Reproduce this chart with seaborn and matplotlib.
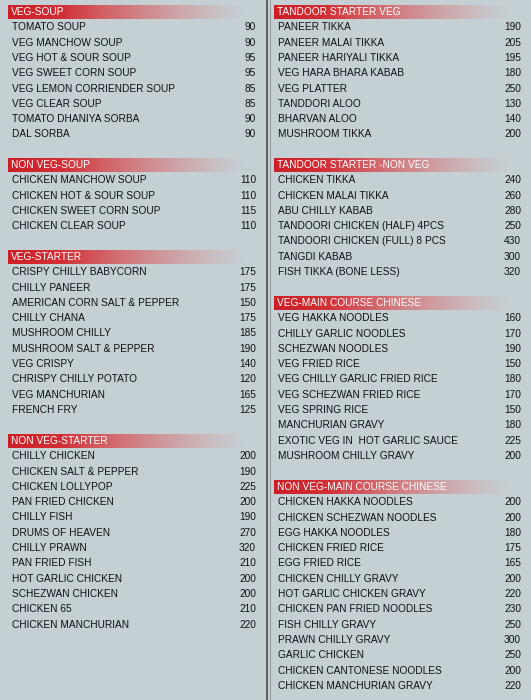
import numpy as np
import matplotlib
matplotlib.use("Agg")
import matplotlib.pyplot as plt
import seaborn as sns

sns.set_style("white")
plt.rcParams['font.family'] = ['Liberation Sans', 'DejaVu Sans']

veg_soup = ["TOMATO SOUP", "VEG MANCHOW SOUP", "VEG HOT & SOUR SOUP", "VEG SWEET CORN SOUP",
            "VEG LEMON CORRIENDER SOUP", "VEG CLEAR SOUP", "TOMATO DHANIYA SORBA", "DAL SORBA"]
veg_soup_p = [90, 90, 95, 95, 85, 85, 90, 90]
nonveg_soup = ["CHICKEN MANCHOW SOUP", "CHICKEN HOT & SOUR SOUP", "CHICKEN SWEET CORN SOUP", "CHICKEN CLEAR SOUP"]
nonveg_soup_p = [110, 110, 115, 110]
veg_starter = ["CRISPY CHILLY BABYCORN", "CHILLY PANEER", "AMERICAN CORN SALT & PEPPER", "CHILLY CHANA",
               "MUSHROOM CHILLY", "MUSHROOM SALT & PEPPER", "VEG CRISPY", "CHRISPY CHILLY POTATO",
               "VEG MANCHURIAN", "FRENCH FRY"]
veg_starter_p = [175, 175, 150, 175, 185, 190, 140, 120, 165, 125]
nonveg_starter = ["CHILLY CHICKEN", "CHICKEN SALT & PEPPER", "CHICKEN LOLLYPOP", "PAN FRIED CHICKEN",
                  "CHILLY FISH", "DRUMS OF HEAVEN", "CHILLY PRAWN", "PAN FRIED FISH", "HOT GARLIC CHICKEN",
                  "SCHEZWAN CHICKEN", "CHICKEN 65", "CHICKEN MANCHURIAN"]
nonveg_starter_p = [200, 190, 225, 200, 190, 270, 320, 210, 200, 200, 210, 220]
tandoor_veg = ["PANEER TIKKA", "PANEER MALAI TIKKA", "PANEER HARIYALI TIKKA", "VEG HARA BHARA KABAB",
               "VEG PLATTER", "TANDDORI ALOO", "BHARVAN ALOO", "MUSHROOM TIKKA"]
tandoor_veg_p = [190, 205, 195, 180, 250, 130, 140, 200]
tandoor_nonveg = ["CHICKEN TIKKA", "CHICKEN MALAI TIKKA", "ABU CHILLY KABAB", "TANDOORI CHICKEN (HALF) 4PCS",
                  "TANDOORI CHICKEN (FULL) 8 PCS", "TANGDI KABAB", "FISH TIKKA (BONE LESS)"]
tandoor_nonveg_p = [240, 260, 280, 250, 430, 300, 320]
veg_chinese = ["VEG HAKKA NOODLES", "CHILLY GARLIC NOODLES", "SCHEZWAN NOODLES", "VEG FRIED RICE",
               "VEG CHILLY GARLIC FRIED RICE", "VEG SCHEZWAN FRIED RICE", "VEG SPRING RICE",
               "MANCHURIAN GRAVY", "EXOTIC VEG IN  HOT GARLIC SAUCE", "MUSHROOM CHILLY GRAVY"]
veg_chinese_p = [160, 170, 190, 150, 180, 170, 150, 180, 225, 200]
nonveg_chinese = ["CHICKEN HAKKA NOODLES", "CHICKEN SCHEZWAN NOODLES", "EGG HAKKA NOODLES", "CHICKEN FRIED RICE",
                  "EGG FRIED RICE", "CHICKEN CHILLY GRAVY", "HOT GARLIC CHICKEN GRAVY", "CHICKEN PAN FRIED NOODLES",
                  "FISH CHILLY GRAVY", "PRAWN CHILLY GRAVY", "GARLIC CHICKEN", "CHICKEN CANTONESE NOODLES",
                  "CHICKEN MANCHURIAN GRAVY"]
nonveg_chinese_p = [200, 200, 180, 175, 165, 200, 220, 230, 250, 300, 250, 200, 220]

left_sections = [("VEG-SOUP", veg_soup, veg_soup_p, 12),
                 ("NON VEG-SOUP", nonveg_soup, nonveg_soup_p, 165),
                 ("VEG-STARTER", veg_starter, veg_starter_p, 257),
                 ("NON VEG-STARTER", nonveg_starter, nonveg_starter_p, 441)]
right_sections = [("TANDOOR STARTER VEG", tandoor_veg, tandoor_veg_p, 12),
                  ("TANDOOR STARTER -NON VEG", tandoor_nonveg, tandoor_nonveg_p, 165),
                  ("VEG-MAIN COURSE CHINESE", veg_chinese, veg_chinese_p, 303),
                  ("NON VEG-MAIN COURSE CHINESE", nonveg_chinese, nonveg_chinese_p, 487)]

fig = plt.figure(figsize=(5.31, 7.0), dpi=100)
fig.patch.set_facecolor("#c5d0d4")
ax = fig.add_axes([0, 0, 1, 1])
ax.set_facecolor("#c5d0d4")
ax.set_xlim(0, 531)
ax.set_ylim(700, 0)
ax.axis("off")

ax.plot([267, 267], [0, 700], color="#4a4a4a", lw=1.2)
ax.plot([270, 270], [0, 700], color="#8a9296", lw=0.6)

def header(x0, x1, y, text):
    n = 256
    grad = np.zeros((1, n, 4))
    grad[..., 0] = np.linspace(0.80, 0.90, n)
    grad[..., 1] = np.linspace(0.12, 0.45, n)
    grad[..., 2] = np.linspace(0.15, 0.45, n)
    a = np.clip(np.linspace(1.3, -0.1, n), 0, 1)
    grad[..., 3] = a
    ax.imshow(grad, extent=(x0, x1, y + 7, y - 7), aspect="auto", zorder=1, interpolation="bilinear")
    ax.text(x0 + 3, y, text, color="white", fontsize=7.3, va="center", ha="left", zorder=2)

def column(sections, x0, x1, xp):
    for title, items, prices, yh in sections:
        header(x0, x1, yh, title)
        for i, (it, p) in enumerate(zip(items, prices)):
            y = yh + 15.3 * (i + 1)
            ax.text(x0 + 4, y, it, fontsize=7.3, va="center", ha="left", color="#111111")
            ax.text(xp, y, str(p), fontsize=7.3, va="center", ha="right", color="#111111")

column(left_sections, 8, 262, 256)
column(right_sections, 274, 526, 521)

fig.savefig("out.png", dpi=100, facecolor=fig.get_facecolor())
